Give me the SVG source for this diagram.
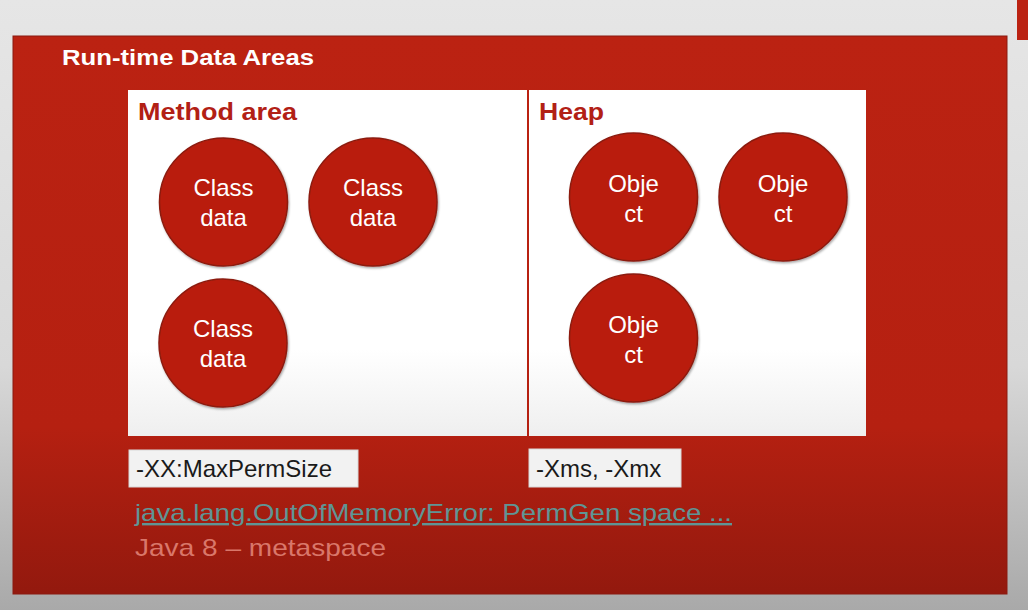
<svg xmlns="http://www.w3.org/2000/svg" width="1028" height="610" viewBox="0 0 1028 610">
<defs>
<linearGradient id="bg" x1="0" y1="0" x2="0" y2="1">
<stop offset="0" stop-color="#e6e6e6"/>
<stop offset="0.6" stop-color="#d8d8d8"/>
<stop offset="1" stop-color="#a9a9a9"/>
</linearGradient>
<linearGradient id="red" x1="0" y1="0" x2="0" y2="1">
<stop offset="0" stop-color="#bb2212"/>
<stop offset="0.7" stop-color="#b52011"/>
<stop offset="1" stop-color="#93190e"/>
</linearGradient>
<linearGradient id="panel" x1="0" y1="0" x2="0" y2="1">
<stop offset="0" stop-color="#ffffff"/>
<stop offset="0.75" stop-color="#ffffff"/>
<stop offset="1" stop-color="#efefef"/>
</linearGradient>
<filter id="sh" x="-10%" y="-10%" width="130%" height="130%">
<feDropShadow dx="1" dy="1.5" stdDeviation="1.2" flood-color="#000" flood-opacity="0.35"/>
</filter>
</defs>
<style>
.ball{fill:#b91f11;stroke:#8c1a10;stroke-width:1.5;filter:url(#sh)}
.bt{font-family:"Liberation Sans",Arial,sans-serif;font-size:24px;fill:#ffffff;text-anchor:middle}
.hd{font-family:"Liberation Sans",Arial,sans-serif;font-size:23px;font-weight:bold;fill:#b22015}
.opt{fill:#f2f2f2;stroke:#d8d8d8;stroke-width:1}
.ot{font-family:"Liberation Sans",Arial,sans-serif;font-size:24px;fill:#1a1a1a}
</style>
<rect x="0" y="0" width="1028" height="610" fill="url(#bg)"/>
<rect x="1017" y="0" width="11" height="40" fill="#bb2212"/>
<g id="runtime">
<rect x="13" y="36" width="994" height="558" fill="url(#red)" stroke="#8a1a10" stroke-width="1"/>
<text x="62" y="65" font-family="'Liberation Sans',Arial,sans-serif" font-size="22" font-weight="bold" fill="#ffffff" textLength="252" lengthAdjust="spacingAndGlyphs">Run-time Data Areas</text>
</g>
<g id="method-area">
<rect x="128" y="90" width="399" height="346" fill="url(#panel)"/>
<text class="hd" x="138" y="120" textLength="159" lengthAdjust="spacingAndGlyphs">Method area</text>
</g>
<g id="heap">
<rect x="529" y="90" width="337" height="346" fill="url(#panel)"/>
<text class="hd" x="539" y="120" textLength="65" lengthAdjust="spacingAndGlyphs">Heap</text>
</g>
<g id="class1"><circle class="ball" cx="223.5" cy="202" r="64"/><text class="bt" x="223.5" y="196">Class</text><text class="bt" x="223.5" y="226">data</text></g>
<g id="class2"><circle class="ball" cx="373" cy="202" r="64"/><text class="bt" x="373" y="196">Class</text><text class="bt" x="373" y="226">data</text></g>
<g id="class3"><circle class="ball" cx="223" cy="343" r="64"/><text class="bt" x="223" y="337">Class</text><text class="bt" x="223" y="367">data</text></g>
<g id="obj1"><circle class="ball" cx="633.5" cy="197" r="64"/><text class="bt" x="633.5" y="192">Obje</text><text class="bt" x="633.5" y="222">ct</text></g>
<g id="obj2"><circle class="ball" cx="783" cy="197" r="64"/><text class="bt" x="783" y="192">Obje</text><text class="bt" x="783" y="222">ct</text></g>
<g id="obj3"><circle class="ball" cx="633.5" cy="338" r="64"/><text class="bt" x="633.5" y="333">Obje</text><text class="bt" x="633.5" y="363">ct</text></g>
<g id="opt-perm">
<rect class="opt" x="129" y="450" width="229" height="37"/>
<text class="ot" x="136" y="477">-XX:MaxPermSize</text>
</g>
<g id="opt-heap">
<rect class="opt" x="529" y="449" width="152" height="38"/>
<text class="ot" x="536" y="477">-Xms, -Xmx</text>
</g>
<g id="notes">
<text x="135" y="521" font-family="'Liberation Sans',Arial,sans-serif" font-size="24" fill="#5f9595" text-decoration="underline" textLength="597" lengthAdjust="spacingAndGlyphs">java.lang.OutOfMemoryError: PermGen space ...</text>
<text x="135" y="556" font-family="'Liberation Sans',Arial,sans-serif" font-size="24" fill="#d9776a" textLength="251" lengthAdjust="spacingAndGlyphs">Java 8 – metaspace</text>
</g>
<g id="connectors"/>
</svg>
